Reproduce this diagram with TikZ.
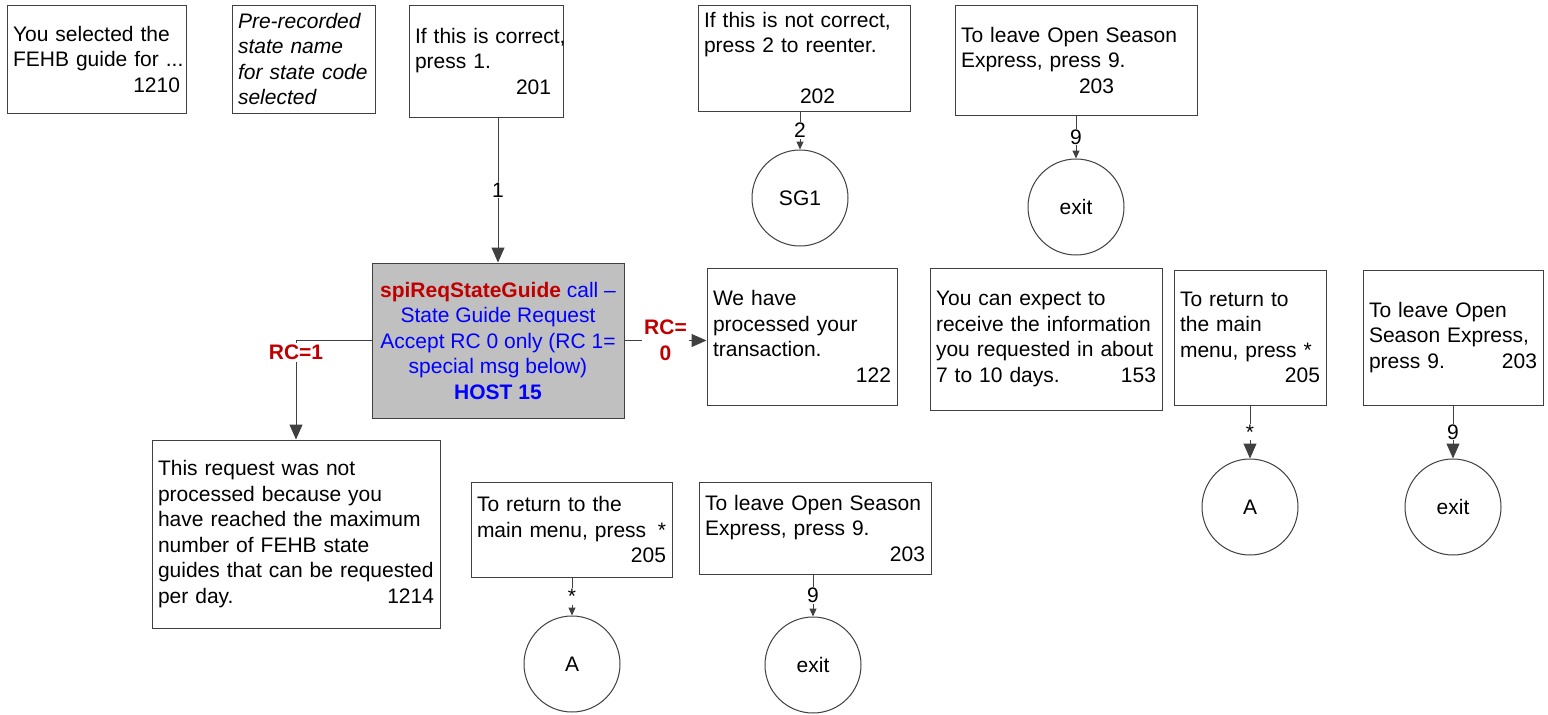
\documentclass[tikz,border=0pt]{standalone}
\usepackage{fontspec}
\setmainfont{Liberation Sans}
\usetikzlibrary{arrows.meta}
\definecolor{rcred}{HTML}{C00000}
\definecolor{hostblue}{HTML}{0000FF}
\definecolor{linegray}{HTML}{404040}
\definecolor{boxgray}{HTML}{C0C0C0}
\begin{document}
\begin{tikzpicture}[x=1pt,y=-1pt,
  every node/.style={font=\fontsize{21}{25.5}\selectfont},
  box/.style={draw=linegray, line width=1pt, rectangle, inner xsep=6pt, inner ysep=0pt, align=left},
  term/.style={draw=linegray, line width=1pt, circle, minimum size=96pt, inner sep=0pt},
  conn/.style={draw=linegray, line width=1pt},
  bigarrow/.style={conn, -{Triangle[length=15pt,width=13pt]}},
  smallarrow/.style={conn, -{Triangle[length=8pt,width=7pt]}},
  lab/.style={fill=white, inner sep=1pt},
  rclab/.style={text=rcred, fill=white, inner sep=2pt, align=center, font=\fontsize{21}{25.5}\selectfont\bfseries}
]
\fill[white] (0,0) rectangle (1548,715);
\useasboundingbox (0,0) rectangle (1548,715);

% top row
\node[box, minimum width=179, minimum height=108, text width=167] (b1210) at (96.5,59)
  {\mbox{You selected the}\\\mbox{FEHB guide for ...}\\\hspace*{\fill}1210};
\node[box, minimum width=143, minimum height=108, text width=131, font=\fontsize{21}{25.5}\selectfont\itshape] (bpre) at (303.5,59)
  {\mbox{Pre-recorded}\\state name\\\mbox{for state code}\\selected};
\node[box, minimum width=154, minimum height=112, text width=142] (b201) at (486,61)
  {\mbox{If this is correct,}\\press 1.\\\hspace*{101pt}201};
\node[box, minimum width=212, minimum height=106, text width=200] (b202) at (804,58)
  {\mbox{If this is not correct,}\\\mbox{press 2 to reenter.}\\\mbox{}\\\hspace*{96pt}202};
\node[box, minimum width=242, minimum height=110, text width=230] (b203a) at (1076,60)
  {\mbox{To leave Open Season}\\Express, press 9.\\\hspace*{118pt}203};

\node[term] (SG1) at (800,198) {SG1};
\node[term] (exit1) at (1076,207) {exit};

% main call box
\node[box, fill=boxgray, align=center, minimum width=252, minimum height=155, inner xsep=3pt, text=hostblue] (main) at (498,340.5)
  {\textcolor{rcred}{\textbf{spiReqStateGuide}} call –\\State Guide Request\\Accept RC 0 only (RC 1=\\special msg below)\\\textbf{HOST 15}};

% middle row
\node[box, minimum width=190, minimum height=137, text width=178] (b122) at (802,336.5)
  {We have\\\mbox{processed your}\\transaction.\\\hspace*{\fill}122};
\node[box, minimum width=232, minimum height=142, text width=220] (b153) at (1046,339)
  {\mbox{You can expect to}\\\mbox{receive the information}\\\mbox{you requested in about}\\7 to 10 days.\hfill 153};
\node[box, minimum width=152, minimum height=135, text width=140] (b205r) at (1250,337.5)
  {To return to\\the main\\\mbox{menu, press *}\\\hspace*{\fill}205};
\node[box, minimum width=180, minimum height=135, text width=168] (b203r) at (1453,337.5)
  {To leave Open\\\mbox{Season Express,}\\press 9.\hfill 203};

\node[term] (A1) at (1250,507) {A};
\node[term] (exit2) at (1453,507) {exit};

% bottom row
\node[box, minimum width=288, minimum height=188, text width=276] (b1214) at (296,534)
  {\mbox{This request was not}\\\mbox{processed because you}\\\mbox{have reached the maximum}\\\mbox{number of FEHB state}\\\mbox{guides that can be requested}\\per day.\hfill 1214\hspace*{10pt}};
\node[box, minimum width=201, minimum height=95, text width=189] (b205b) at (571.5,529.5)
  {\mbox{To return to the}\\main menu, press\hfill *\\\hspace*{\fill}205};
\node[box, minimum width=232, minimum height=92, text width=220] (b203b) at (815,528)
  {\mbox{To leave Open Season}\\\mbox{Express, press 9.}\\\hspace*{\fill}203\hspace*{6pt}};

\node[term] (A2) at (572,664) {A};
\node[term] (exit3) at (813,665) {exit};

% connectors
\draw[bigarrow] (main.north |- b201.south) -- node[lab]{1} (main.north);
\draw[smallarrow] (SG1.north |- b202.south) -- node[lab]{2} (SG1.north);
\draw[smallarrow] (b203a.south) -- node[lab]{9} (exit1.north);
\draw[bigarrow] (main.west) -| node[rclab, pos=0.5, yshift=-12pt]{RC=1} (b1214.north);
\draw[bigarrow] (main.east) -- node[rclab]{RC=\\0} (main.east -| b122.west);
\draw[bigarrow] (b205r.south) -- node[lab]{*} (A1.north);
\draw[bigarrow] (b203r.south) -- node[lab]{9} (exit2.north);
\draw[smallarrow] (A2.north |- b205b.south) -- node[lab]{*} (A2.north);
\draw[smallarrow] (exit3.north |- b203b.south) -- node[lab]{9} (exit3.north);
\end{tikzpicture}
\end{document}
